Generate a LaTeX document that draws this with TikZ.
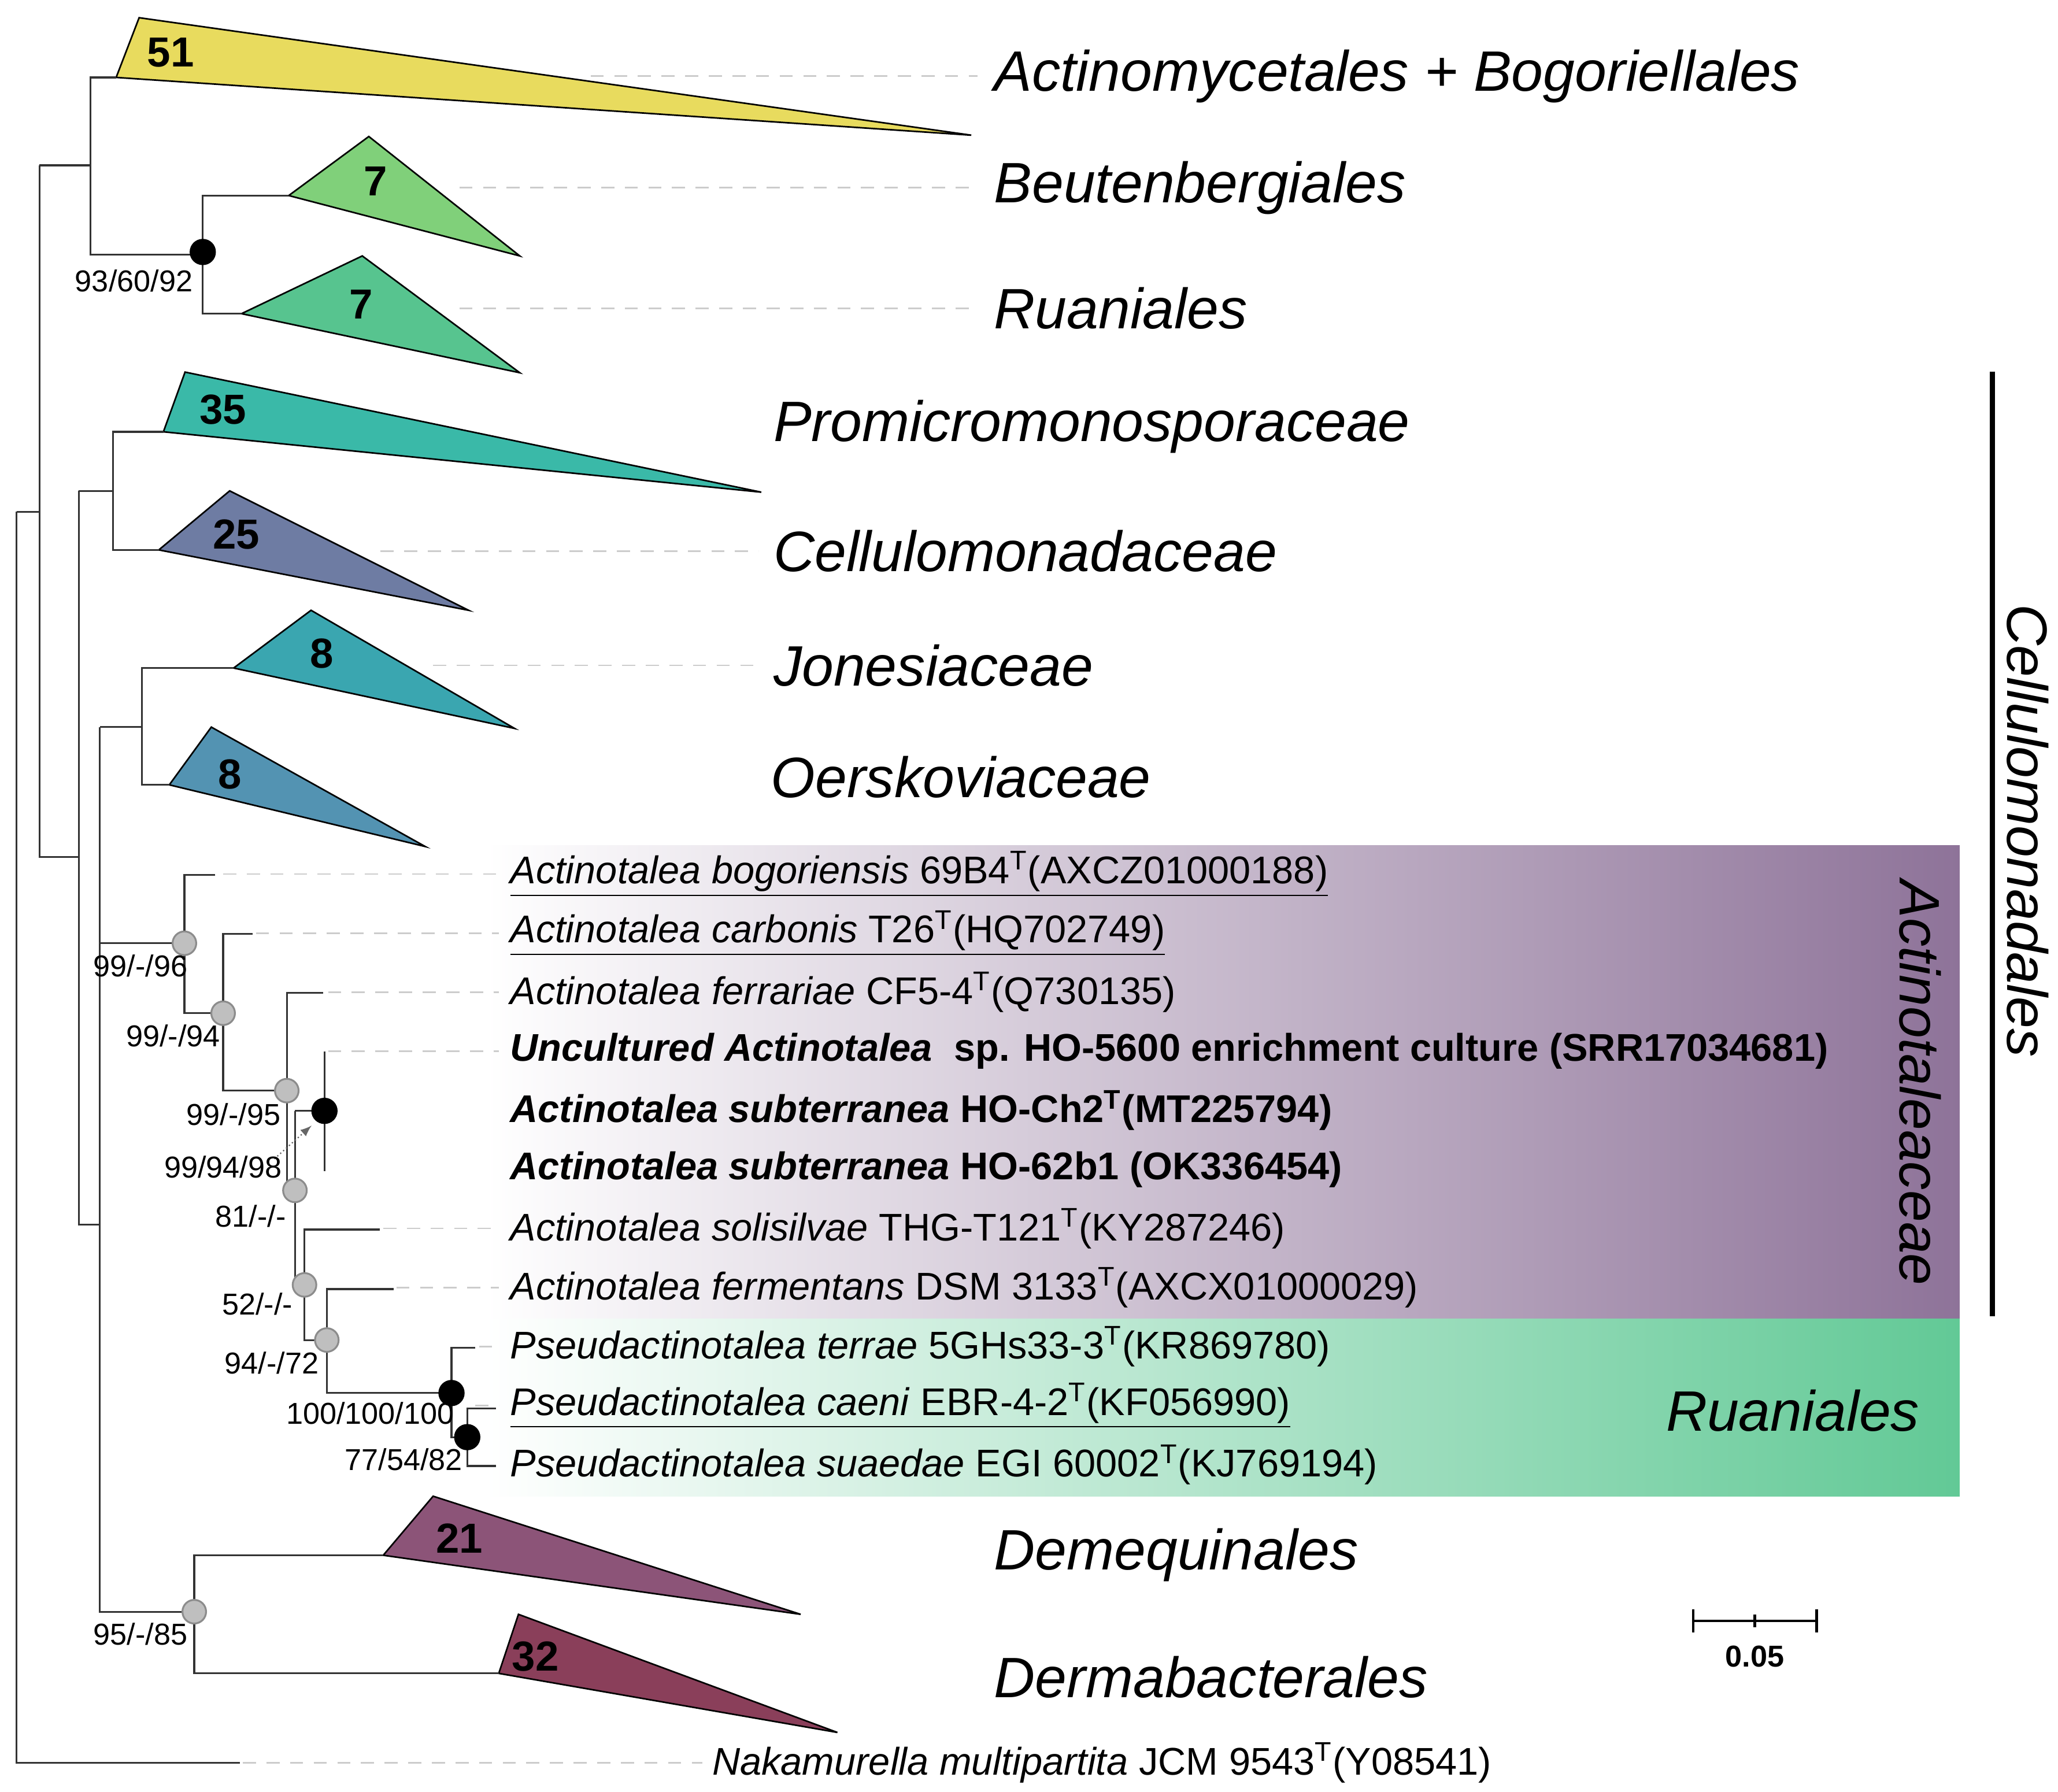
\documentclass[tikz,border=0pt]{standalone}
\usepackage{fontspec}
\setmainfont{Liberation Sans}
\begin{document}
\begin{tikzpicture}[x=0.5pt,y=-0.5pt,line width=0.7pt,
  br/.style={draw=black!80,line width=0.7pt},
  dl/.style={draw=black!20,dash pattern=on 5pt off 4pt,line width=0.6pt},
  tri/.style={draw=black,line width=0.6pt},
  num/.style={font=\fontsize{16}{17}\selectfont\bfseries},
  big/.style={anchor=west,font=\fontsize{21.7}{24}\selectfont\itshape},
  tx/.style={anchor=west,font=\fontsize{14.7}{16}\selectfont,inner sep=0pt},
  gdot/.style={circle,fill=black!25,draw=black!45,minimum size=9pt,inner sep=0pt},
  bdot/.style={circle,fill=black,minimum size=10pt,inner sep=0pt}]
\useasboundingbox (0,0) rectangle (1568,1365);
\definecolor{cy}{HTML}{E8DB5E}\definecolor{cg1}{HTML}{80D07A}\definecolor{cg2}{HTML}{57C48F}
\definecolor{ct1}{HTML}{3AB9A8}\definecolor{csl}{HTML}{6E7CA3}\definecolor{ct2}{HTML}{3AA6B0}
\definecolor{cbl}{HTML}{5393B2}\definecolor{cdm}{HTML}{8C5478}\definecolor{cdr}{HTML}{8A3F5A}
\definecolor{cpu}{HTML}{8E7399}\definecolor{cgr}{HTML}{62C996}
% background boxes
\shade[left color=white,right color=cpu] (370,644) rectangle (1493,1005);
\shade[left color=white,right color=cgr] (370,1005) rectangle (1493,1140);
% triangles
\filldraw[tri,fill=cy] (88.5,59) -- (106,13.5) -- (740,103) -- cycle;
\filldraw[tri,fill=cg1] (220,149) -- (281,104) -- (396,195) -- cycle;
\filldraw[tri,fill=cg2] (184,239) -- (276,195) -- (396,284) -- cycle;
\filldraw[tri,fill=ct1] (124.5,329) -- (141,283.5) -- (580,375) -- cycle;
\filldraw[tri,fill=csl] (121,419) -- (175,374) -- (357,465) -- cycle;
\filldraw[tri,fill=ct2] (178,509) -- (237,465) -- (392,555) -- cycle;
\filldraw[tri,fill=cbl] (129,598) -- (161,554) -- (324,645) -- cycle;
\filldraw[tri,fill=cdm] (292,1185) -- (330,1140) -- (610,1230) -- cycle;
\filldraw[tri,fill=cdr] (380,1275) -- (395,1230) -- (638,1320) -- cycle;
\node[num] (n51) at (130,40) {51};
\node[num] (n7a) at (286,138) {7};
\node[num] (n7b) at (275,232) {7};
\node[num] (n35) at (170,312) {35};
\node[num] (n25) at (180,407) {25};
\node[num] (n8a) at (245,498) {8};
\node[num] (n8b) at (175,590) {8};
\node[num] (n21) at (350,1172) {21};
\node[num] (n32) at (408,1262) {32};
% dashed guide lines
\foreach \y/\a/\b in {143/350/745,235/350/745,420/290/578,507/330/578,
  666/170/380,711/195/380,756/250/380,801/250/380,936/292/380,981/302/380,1026/365/380,1071/362/380,1343/185/535}
  \draw[dl] (\a,\y) -- (\b,\y);
\draw[dl] (450,58) -- (745,58);
% backbone
\draw[br] (12.6,390) -- (12.6,1343) -- (183,1343);
\draw[br] (12.6,390) -- (30,390);
\draw[br] (30,126) -- (30,653) -- (60,653);
\draw[br] (30,126) -- (69,126);
\draw[br] (88.5,59) -- (69,59) -- (69,194) -- (154.5,194);
\draw[br] (220,149) -- (154.5,149) -- (154.5,239) -- (184,239);
\draw[br] (60,374) -- (60,933) -- (76,933);
\draw[br] (60,374) -- (86,374);
\draw[br] (124.5,329) -- (86,329) -- (86,419) -- (121,419);
\draw[br] (76,554) -- (76,1228) -- (148,1228);
\draw[br] (76,554) -- (108,554);
\draw[br] (178,509) -- (108,509) -- (108,598) -- (129,598);
\draw[br] (292,1185) -- (148,1185) -- (148,1275) -- (380,1275);
% Actinotaleaceae subtree
\draw[br] (76,718.7) -- (140.5,718.7);
\draw[br] (164,666.5) -- (140.5,666.5) -- (140.5,772) -- (170,772);
\draw[br] (192.4,711.6) -- (170,711.6) -- (170,831) -- (218.5,831);
\draw[br] (246,756.5) -- (218.5,756.5) -- (218.5,907) -- (224.7,907);
\draw[br] (224.7,846.4) -- (247.2,846.4);
\draw[br] (247.2,801) -- (247.2,892.3);
\draw[br] (224.7,846.4) -- (224.7,979) -- (232,979);
\draw[br] (289.3,936.8) -- (232,936.8) -- (232,1021) -- (249,1021);
\draw[br] (300,982.2) -- (249,982.2) -- (249,1061.4) -- (344,1061.4);
\draw[br] (362,1027) -- (344,1027) -- (344,1095) -- (356,1095);
\draw[br] (378,1073) -- (356,1073) -- (356,1117) -- (378,1117);
\coordinate (arS) at (209,883);
\coordinate (arE) at (237.4,857.6);
\draw[black!60,densely dotted,-latex,line width=0.5pt] (arS) -- (arE);
% support dots
\node[bdot] (d1) at (154.5,192) {};
\node[gdot] (g1) at (140.5,718.7) {};
\node[gdot] (g2) at (170,772) {};
\node[gdot] (g3) at (218.5,831) {};
\node[bdot] (d2) at (247.2,846.4) {};
\node[gdot] (g4) at (224.7,907) {};
\node[gdot] (g5) at (232,979) {};
\node[gdot] (g6) at (249,1021) {};
\node[bdot] (d3) at (344,1061.4) {};
\node[bdot] (d4) at (356,1095) {};
\node[gdot] (g7) at (148,1228) {};
\tikzset{sl/.style={font=\fontsize{11.5}{12}\selectfont,inner sep=0pt}}
\node[sl] (s1) at (102,214) {93/60/92};
\node[sl] (s2) at (107,736) {99/-/96};
\node[sl] (s3) at (132,789) {99/-/94};
\node[sl] (s4) at (178,849) {99/-/95};
\node[sl] (s5) at (170,889) {99/94/98};
\node[sl] (s6) at (191,926.6) {81/-/-};
\node[sl] (s7) at (196,993.4) {52/-/-};
\node[sl] (s8) at (207,1038.5) {94/-/72};
\node[sl] (s9) at (282,1076.6) {100/100/100};
\node[sl] (s10) at (307.6,1112) {77/54/82};
\node[sl] (s11) at (107,1245) {95/-/85};
% big labels
\node[big] (L1) at (750,58) {Actinomycetales + Bogoriellales};
\node[big] (L2) at (750,143) {Beutenbergiales};
\node[big] (L3) at (750,235) {Ruaniales};
\node[big] (L4) at (582,325) {Promicromonosporaceae};
\node[big] (L5) at (582,420) {Cellulomonadaceae};
\node[big] (L6) at (582,507) {Jonesiaceae};
\node[big] (L7) at (580,592) {Oerskoviaceae};
\node[big] (L8) at (750,1185) {Demequinales};
\node[big] (L9) at (750,1278) {Dermabacterales};
\node[big] (L10) at (1262,1075) {Ruaniales};
\node[big,anchor=center,rotate=-90] (L11) at (1463,825) {Actinotaleaceae};
\node[big,anchor=center,rotate=-90] (L12) at (1545,633) {Cellulomonadales};
\draw[line width=2pt] (1518,283) -- (1518,1003);
% taxa
\newcommand{\Tsup}{\textsuperscript{T}}
\node[tx] (t1) at (388,666) {\underline{\textit{Actinotalea bogoriensis} 69B4\Tsup(AXCZ01000188)}};
\node[tx] (t2) at (388,711) {\underline{\textit{Actinotalea carbonis} T26\Tsup(HQ702749)}};
\node[tx] (t3) at (388,756) {\textit{Actinotalea ferrariae} CF5-4\Tsup(Q730135)};
\node[tx] (t4) at (388,801) {\bfseries\textit{Uncultured Actinotalea}\ \ sp. HO-5600 enrichment culture (SRR17034681)};
\node[tx] (t5) at (388,846) {\bfseries\textit{Actinotalea subterranea} HO-Ch2\Tsup(MT225794)};
\node[tx] (t6) at (388,891) {\bfseries\textit{Actinotalea subterranea} HO-62b1 (OK336454)};
\node[tx] (t7) at (388,936) {\textit{Actinotalea solisilvae} THG-T121\Tsup(KY287246)};
\node[tx] (t8) at (388,981) {\textit{Actinotalea fermentans} DSM 3133\Tsup(AXCX01000029)};
\node[tx] (t9) at (388,1026) {\textit{Pseudactinotalea terrae} 5GHs33-3\Tsup(KR869780)};
\node[tx] (t10) at (388,1071) {\underline{\textit{Pseudactinotalea caeni} EBR-4-2\Tsup(KF056990)}};
\node[tx] (t11) at (388,1116) {\textit{Pseudactinotalea suaedae} EGI 60002\Tsup(KJ769194)};
\node[tx] (t12) at (542,1343) {\textit{Nakamurella multipartita} JCM 9543\Tsup(Y08541)};
% scale bar
\draw[line width=1pt] (1290,1235) -- (1384,1235);
\draw[line width=1pt] (1290,1226) -- (1290,1244) (1384,1226) -- (1384,1244) (1337,1230) -- (1337,1240);
\node[font=\fontsize{11.5}{12}\selectfont\bfseries] (sb) at (1337,1262) {0.05};
\end{tikzpicture}
\end{document}
